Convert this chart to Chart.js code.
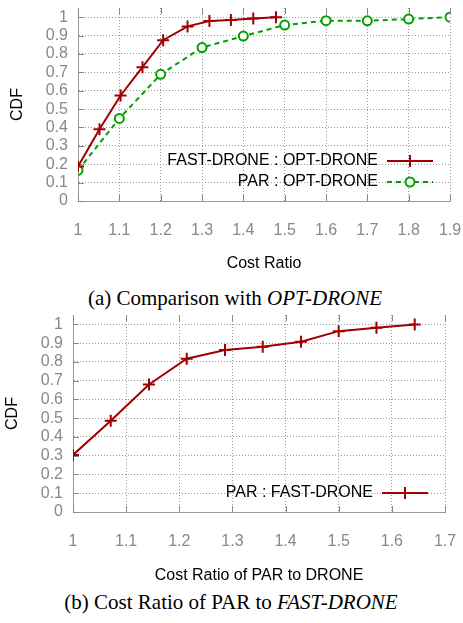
<!DOCTYPE html>
<html>
<head>
<meta charset="utf-8">
<script src="https://cdn.jsdelivr.net/npm/chart.js@4.4.1/dist/chart.umd.min.js"></script>
<style>
  body { margin: 0; background: #fff; width: 463px; height: 623px; position: relative; overflow: hidden; }
  .box { position: absolute; left: 0; width: 463px; }
  .cap { position: absolute; font-family: "Liberation Serif", "Times New Roman", serif; font-size: 21px; color: #000; text-align: center; white-space: nowrap; line-height: 24px; }
</style>
</head>
<body>
<div class="box" style="top:0;height:275px"><canvas id="chartA" width="463" height="275"></canvas></div>
<div class="cap" style="left:0;width:470px;top:286px">(a) Comparison with <i>OPT-DRONE</i></div>
<div class="box" style="top:305px;height:285px"><canvas id="chartB" width="463" height="285"></canvas></div>
<div class="cap" style="left:0;width:462px;top:590px">(b) Cost Ratio of PAR to <i>FAST-DRONE</i></div>
<script>
// (a) FAST-DRONE : OPT-DRONE
const fastX = [1.0, 1.052, 1.103, 1.156, 1.206, 1.265, 1.318, 1.370, 1.424, 1.479];
const fastY = [0.188, 0.39, 0.574, 0.728, 0.875, 0.95, 0.979, 0.985, 0.993, 1.0];
// (a) PAR : OPT-DRONE
const parX = [1.0, 1.1, 1.2, 1.3, 1.4, 1.5, 1.6, 1.7, 1.8, 1.9];
const parY = [0.167, 0.449, 0.689, 0.835, 0.897, 0.957, 0.981, 0.98, 0.99, 1.0];
// (b) PAR : FAST-DRONE
const pfX = [1.0, 1.071, 1.143, 1.214, 1.286, 1.357, 1.429, 1.5, 1.571, 1.643];
const pfY = [0.304, 0.486, 0.68, 0.817, 0.863, 0.881, 0.907, 0.964, 0.982, 1.0];

const xRangeA = [1, 1.9];
const xRangeB = [1, 1.7];
const yRange = [0, 1.05];

const RED = '#a00000';
const GREEN = '#00a000';
const FONT = { family: '"Liberation Sans", Arial, sans-serif', size: 16 };

function toPoints(xs, ys) {
  return xs.map((x, i) => ({ x: x, y: ys[i] }));
}

function fmt(v) {
  return String(Number(v.toFixed(2)));
}

// gnuplot style key: text on the left, sample line + marker on the right
const sideKey = {
  id: 'sideKey',
  afterDraw(chart) {
    const ctx = chart.ctx;
    const area = chart.chartArea;
    const n = chart.data.datasets.length;
    ctx.save();
    ctx.font = '16px "Liberation Sans", Arial, sans-serif';
    ctx.textAlign = 'right';
    ctx.textBaseline = 'middle';
    chart.data.datasets.forEach((ds, i) => {
      const y = area.bottom - 19 - (n - 1 - i) * 21;
      ctx.fillStyle = '#000';
      ctx.fillText(ds.label, area.right - 72, y);
      ctx.strokeStyle = ds.borderColor;
      ctx.lineWidth = ds.borderWidth;
      ctx.setLineDash(ds.borderDash || []);
      ctx.beginPath();
      ctx.moveTo(area.right - 63, y);
      ctx.lineTo(area.right - 17, y);
      ctx.stroke();
      ctx.setLineDash([]);
      ctx.fillStyle = ds.pointBackgroundColor;
      ctx.lineWidth = ds.pointBorderWidth;
      Chart.helpers.drawPoint(ctx, { pointStyle: ds.pointStyle, radius: ds.pointRadius, rotation: 0, borderWidth: ds.pointBorderWidth }, area.right - 40, y);
    });
    ctx.restore();
  }
};

// short inward tick marks on bottom, top and left edges
const innerTicks = {
  id: 'innerTicks',
  beforeDatasetsDraw(chart) {
    const ctx = chart.ctx;
    const area = chart.chartArea;
    const xs = chart.scales.x, ys = chart.scales.y;
    ctx.save();
    ctx.strokeStyle = '#888';
    ctx.lineWidth = 1;
    ctx.beginPath();
    xs.ticks.forEach(t => {
      const px = Math.round(xs.getPixelForValue(t.value)) + 0.5;
      ctx.moveTo(px, area.bottom); ctx.lineTo(px, area.bottom - 6);
      ctx.moveTo(px, area.top); ctx.lineTo(px, area.top + 6);
    });
    ys.ticks.forEach(t => {
      const py = Math.round(ys.getPixelForValue(t.value)) + 0.5;
      ctx.moveTo(area.left, py); ctx.lineTo(area.left + 6, py);
    });
    ctx.stroke();
    ctx.restore();
  }
};

// fixed axis sizes, labels may overflow into the layout padding
function fixSize(s, w, h) {
  if (w) s.width = w;
  if (h) s.height = h;
  s.paddingLeft = 0; s.paddingRight = 0; s.paddingTop = 0; s.paddingBottom = 0;
}

function makeScales(xr, xTitle, yWidth, xHeight, cdfPad, titlePad) {
  return {
    x: {
      type: 'linear', min: xr[0], max: xr[1],
      afterFit(s) { fixSize(s, 0, xHeight); },
      ticks: { stepSize: 0.1, color: '#888', font: FONT, padding: 20, maxRotation: 0, autoSkip: false, includeBounds: false, callback: fmt },
      grid: { color: '#9a9a9a', lineWidth: 1, drawTicks: false },
      border: { display: true, color: '#999', width: 1, dash: [1, 2] },
      title: { display: true, text: xTitle, color: '#000', font: FONT, padding: { top: 0, bottom: titlePad } }
    },
    y: {
      min: yRange[0], max: yRange[1],
      afterFit(s) { fixSize(s, yWidth, 0); },
      ticks: { stepSize: 0.1, color: '#888', font: FONT, padding: 10, autoSkip: false, includeBounds: false, callback: fmt },
      grid: { color: '#9a9a9a', lineWidth: 1, drawTicks: false },
      border: { display: true, color: '#999', width: 1, dash: [1, 2] },
      title: { display: true, text: 'CDF', color: '#000', font: FONT, padding: { top: cdfPad, bottom: 0 } }
    }
  };
}

const fastSet = {
  label: 'FAST-DRONE : OPT-DRONE',
  borderColor: RED, backgroundColor: RED, borderWidth: 2,
  pointStyle: 'cross', pointRadius: 6, pointBorderWidth: 2,
  pointBackgroundColor: RED, pointBorderColor: RED
};
const parSet = {
  label: 'PAR : OPT-DRONE',
  borderColor: GREEN, backgroundColor: GREEN, borderWidth: 2, borderDash: [5, 4],
  pointStyle: 'circle', pointRadius: 4.5, pointBorderWidth: 2,
  pointBackgroundColor: '#fff', pointBorderColor: GREEN
};

new Chart(document.getElementById('chartA'), {
  type: 'line',
  data: {
    datasets: [
      Object.assign({ data: toPoints(fastX, fastY), tension: 0 }, fastSet),
      Object.assign({ data: toPoints(parX, parY), tension: 0 }, parSet)
    ]
  },
  options: {
    responsive: false, animation: false,
    layout: { padding: { top: 4, right: 13, left: 0, bottom: 0 } },
    plugins: { legend: { display: false }, tooltip: { enabled: false } },
    scales: makeScales(xRangeA, 'Cost Ratio', 78, 74, 8, 2)
  },
  plugins: [innerTicks, sideKey]
});

new Chart(document.getElementById('chartB'), {
  type: 'line',
  data: {
    datasets: [
      Object.assign({ data: toPoints(pfX, pfY), tension: 0 }, fastSet, { label: 'PAR : FAST-DRONE' })
    ]
  },
  options: {
    responsive: false, animation: false,
    layout: { padding: { top: 10, right: 18, left: 0, bottom: 0 } },
    plugins: { legend: { display: false }, tooltip: { enabled: false } },
    scales: makeScales(xRangeB, 'Cost Ratio of PAR to DRONE', 73, 78, 3, 5)
  },
  plugins: [innerTicks, sideKey]
});
</script>
</body>
</html>
